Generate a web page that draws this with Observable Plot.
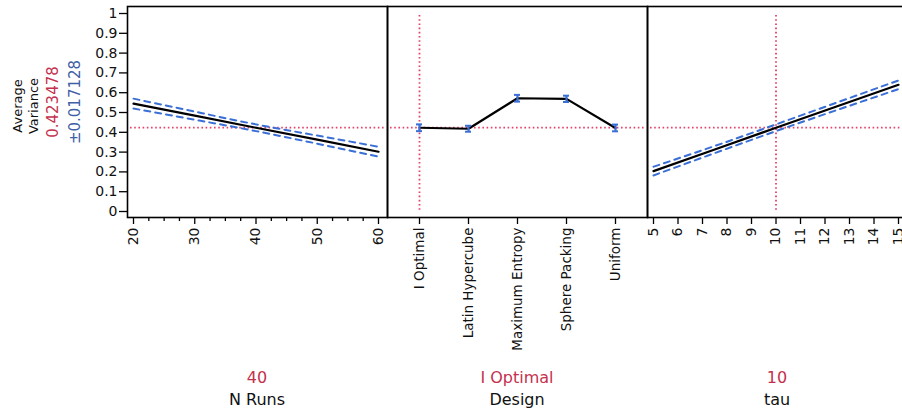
<!DOCTYPE html>
<html><head><meta charset="utf-8">
<script src="https://cdn.jsdelivr.net/npm/d3@7"></script>
<script src="https://cdn.jsdelivr.net/npm/@observablehq/plot@0.6"></script>
<style>
body{margin:0;background:#fff;}
#chart{position:relative;width:902px;height:414px;overflow:hidden;font-family:"DejaVu Sans",sans-serif;background:#fff;}
#chart svg{position:absolute;left:0;top:0;}
.lbl{position:absolute;white-space:nowrap;transform:translate(-50%,-50%) rotate(-90deg);line-height:1;}
.bot{position:absolute;white-space:nowrap;transform:translate(-50%,-50%);line-height:1;}
</style></head><body><div id="chart"></div>
<script>
// ---- data ----
const yTicks = [0, 0.1, 0.2, 0.3, 0.4, 0.5, 0.6, 0.7, 0.8, 0.9, 1];
const responseName = ["Average", "Variance"];
const responseValue = "0.423478";
const responseCI = "±0.017128";
const currentY = 0.423478;

const nRuns = [20, 30, 40, 50, 60];
const nRunsPred = [0.545, 0.484, 0.423, 0.363, 0.302];
const nRunsUpper = [0.570, 0.5045, 0.440, 0.3835, 0.327];
const nRunsLower = [0.520, 0.4635, 0.406, 0.3425, 0.277];
const nRunsTicks = [20, 30, 40, 50, 60];
const nRunsMinor = [22.5, 25, 27.5, 32.5, 35, 37.5, 42.5, 45, 47.5, 52.5, 55, 57.5];

const designs = ["I Optimal", "Latin Hypercube", "Maximum Entropy", "Sphere Packing", "Uniform"];
const designPred = [0.423, 0.418, 0.572, 0.569, 0.422];
const designErr = [0.017, 0.015, 0.017, 0.016, 0.017];

const tau = [5, 7.5, 10, 12.5, 15];
const tauPred = [0.204, 0.313, 0.423, 0.532, 0.640];
const tauUpper = [0.226, 0.331, 0.440, 0.551, 0.662];
const tauLower = [0.182, 0.295, 0.406, 0.513, 0.618];
const tauTicks = [5, 6, 7, 8, 9, 10, 11, 12, 13, 14, 15];

const factorNames = ["N Runs", "Design", "tau"];
const factorCurrent = ["40", "I Optimal", "10"];
const currentX = [40, "I Optimal", 10];

// ---- styles ----
const RED = "#e5416a", RED_TXT = "#c4314e", BLUE = "#3a6fd6", BLUE_TXT = "#3f5fa6";
const padTop = 6, plotBottom = 217, H = 414;
const yScale = {domain: [-0.0303, 1.0354], range: [plotBottom, padTop], axis: null};
const svgStyle = {background: "transparent", overflow: "visible", maxWidth: "none", fontFamily: "DejaVu Sans, sans-serif"};
const chart = document.getElementById("chart");

const nRunsRows = nRuns.map((x, i) => ({x, y: nRunsPred[i], lo: nRunsLower[i], hi: nRunsUpper[i]}));
const designRows = designs.map((x, i) => ({x, y: designPred[i], lo: designPred[i] - designErr[i], hi: designPred[i] + designErr[i]}));
const tauRows = tau.map((x, i) => ({x, y: tauPred[i], lo: tauLower[i], hi: tauUpper[i]}));

const refH = () => Plot.ruleY([currentY], {stroke: RED, strokeWidth: 1.8, strokeDasharray: "1.6,2.6", insetLeft: 3, insetRight: 3});
const refV = (v) => Plot.ruleX([v], {stroke: RED, strokeWidth: 1.8, strokeDasharray: "1.6,2.6", insetTop: 9, insetBottom: 6});
const bandLines = (rows) => [
  Plot.line(rows, {x: "x", y: "hi", stroke: BLUE, strokeWidth: 2, strokeDasharray: "6,5", curve: "natural"}),
  Plot.line(rows, {x: "x", y: "lo", stroke: BLUE, strokeWidth: 2, strokeDasharray: "6,5", curve: "natural"})
];

// Panel 1: N Runs (with y axis)
const p1 = Plot.plot({
  width: 902, height: H, marginTop: padTop, marginBottom: H - plotBottom, marginLeft: 127, marginRight: 902 - 387,
  style: svgStyle,
  x: {type: "linear", domain: [19.02, 61.47], axis: null},
  y: yScale,
  marks: [
    refH(),
    ...bandLines(nRunsRows),
    Plot.line(nRunsRows, {x: "x", y: "y", stroke: "black", strokeWidth: 2.2}),
    Plot.frame({stroke: "black", strokeWidth: 1.6}),
    Plot.axisY(yTicks, {tickSize: 8, tickPadding: 2, fontSize: 14, tickFormat: d => String(d), label: null, stroke: "black", strokeWidth: 1.3, fill: "#111"}),
    Plot.axisX(nRunsMinor, {tickSize: 4, tickFormat: () => "", label: null, strokeWidth: 1.3}),
    Plot.axisX(nRunsTicks, {tickSize: 7, tickPadding: 3, tickRotate: -90, fontSize: 14, label: null, strokeWidth: 1.3, fill: "#111"})
  ]
});
chart.appendChild(p1);

// Panel 2: Design
const p2 = Plot.plot({
  width: 902, height: H, marginTop: padTop, marginBottom: H - plotBottom, marginLeft: 387, marginRight: 902 - 647,
  style: svgStyle,
  x: {type: "band", domain: designs, paddingInner: 0.88, paddingOuter: 0.593, axis: null},
  y: yScale,
  marks: [
    refH(),
    refV(currentX[1]),
    Plot.line(designRows, {x: "x", y: "y", stroke: "black", strokeWidth: 2.2}),
    Plot.ruleX(designRows, {x: "x", y1: "lo", y2: "hi", stroke: BLUE, strokeWidth: 2.2}),
    Plot.tickY(designRows, {x: "x", y: "lo", stroke: BLUE, strokeWidth: 2}),
    Plot.tickY(designRows, {x: "x", y: "hi", stroke: BLUE, strokeWidth: 2}),
    Plot.frame({stroke: "black", strokeWidth: 1.6}),
    Plot.axisX(designs, {tickSize: 7, tickPadding: 3, tickRotate: -90, fontSize: 13.5, label: null, strokeWidth: 1.3, fill: "#111"})
  ]
});
chart.appendChild(p2);

// Panel 3: tau
const p3 = Plot.plot({
  width: 907, height: H, marginTop: padTop, marginBottom: H - plotBottom, marginLeft: 647, marginRight: 0,
  style: svgStyle,
  x: {type: "linear", domain: [4.755, 15.367], axis: null},
  y: yScale,
  marks: [
    refH(),
    refV(currentX[2]),
    ...bandLines(tauRows),
    Plot.line(tauRows, {x: "x", y: "y", stroke: "black", strokeWidth: 2.2}),
    Plot.frame({stroke: "black", strokeWidth: 1.6}),
    Plot.axisX(tauTicks, {tickSize: 7, tickPadding: 3, tickRotate: -90, fontSize: 14, label: null, strokeWidth: 1.3, fill: "#111"})
  ]
});
chart.appendChild(p3);

// Response label (rotated)
const addLbl = (text, x, y, size, color, cls) => {
  const d = document.createElement("div");
  d.className = cls;
  d.textContent = text;
  d.style.left = x + "px"; d.style.top = y + "px";
  d.style.fontSize = size + "px"; d.style.color = color;
  chart.appendChild(d);
};
addLbl(responseName[0], 17, 106, 13, "#111", "lbl");
addLbl(responseName[1], 33, 106, 13, "#111", "lbl");
addLbl(responseValue, 53, 102, 15, RED_TXT, "lbl");
addLbl(responseCI, 75, 102, 15, BLUE_TXT, "lbl");

// Factor labels under panels
const centers = [257, 517, 777];
factorNames.forEach((n, i) => {
  addLbl(factorCurrent[i], centers[i], 378, 16, RED_TXT, "bot");
  addLbl(n, centers[i], 400, 16, "#111", "bot");
});
</script></body></html>
